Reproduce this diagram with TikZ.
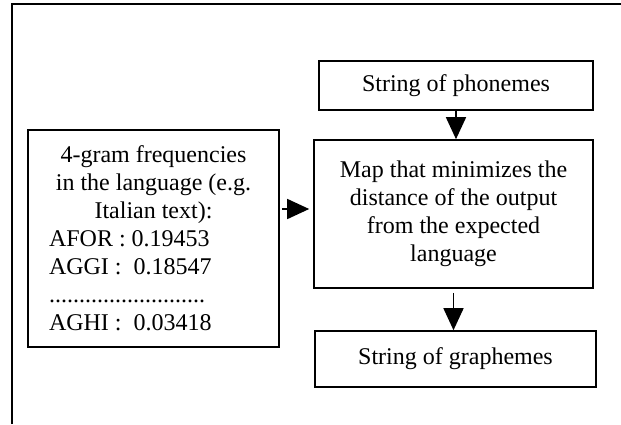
\documentclass[tikz,border=0pt]{standalone}
\usepackage{fontspec}
\setmainfont{Liberation Serif}
\usetikzlibrary{arrows.meta}

\begin{document}
\begin{tikzpicture}[x=0.5pt,y=-0.5pt,>={Triangle[length=11pt,width=10pt]},
  font=\fontsize{12pt}{14pt}\selectfont,
  box/.style={draw,line width=0.8pt,inner sep=0pt,align=center}]
\useasboundingbox (0,0) rectangle (621,424);
\draw[line width=1pt] (12,424) -- (12,4) -- (621,4);
\node[box,minimum width=137pt,minimum height=24.5pt] (phon) at (456,85.5) {String of phonemes};
\node[box,minimum width=139.5pt,minimum height=74pt] (map) at (453.5,214)
  {Map that minimizes the\\distance of the output\\from the expected\\language};
\node[box,minimum width=140.5pt,minimum height=28pt] (graph) at (455.5,359) {String of graphemes};
\node[box,minimum width=125.5pt,minimum height=108.5pt] (freq) at (153.5,238.5)
  {4-gram frequencies\\in the language (e.g.\\Italian text):\\
   \makebox[104.5pt][l]{AFOR : 0.19453}\\
   \makebox[104.5pt][l]{AGGI :\ \ 0.18547}\\
   \makebox[104.5pt][l]{..........................}\\
   \makebox[104.5pt][l]{AGHI :\ \ 0.03418}};
\coordinate (mid) at (0,209);
\draw[->,line width=0.75pt] ([xshift=1pt]freq.east |- mid) -- ([xshift=-2pt]map.west |- mid);
\draw[->,line width=0.75pt] (phon.south) -- (phon.south |- map.north);
\draw[->,line width=0.75pt] ([yshift=-2pt]map.south) -- (map.south |- graph.north);
\end{tikzpicture}
\end{document}
